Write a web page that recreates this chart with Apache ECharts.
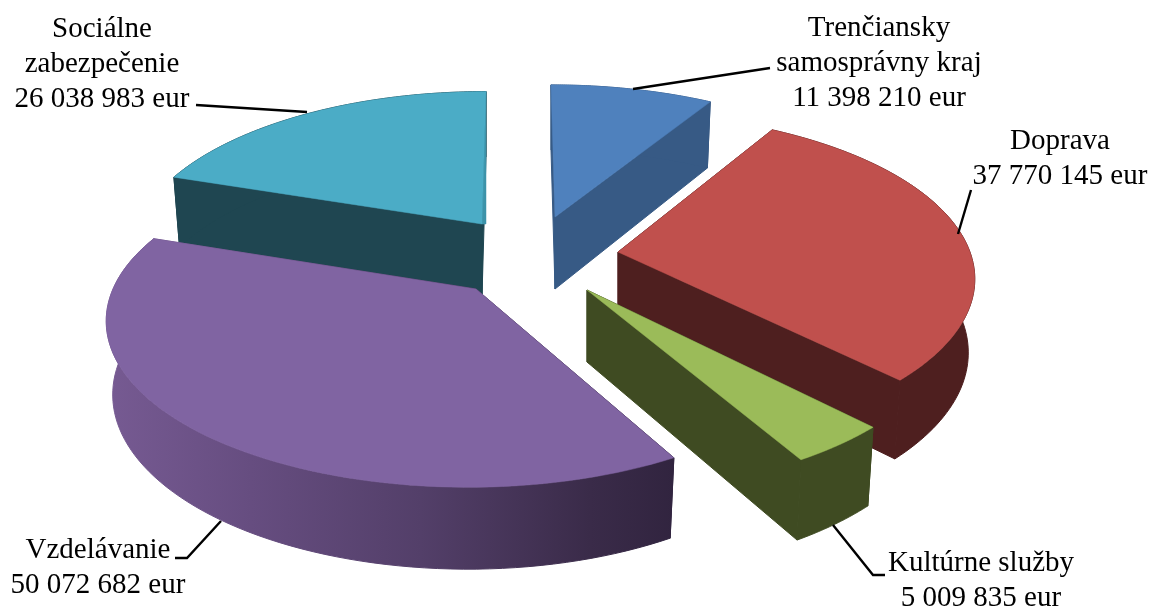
<!DOCTYPE html>
<html><head><meta charset="utf-8">
<script src="https://cdn.jsdelivr.net/npm/echarts@6/dist/echarts.min.js"></script>
<style>html,body{margin:0;padding:0;background:#fff}#c{width:1151px;height:608px}</style>
</head><body><div id="c"></div>
<script>
var names = [["Trenčiansky","samosprávny kraj"],["Doprava"],["Kultúrne služby"],["Vzdelávanie"],["Sociálne","zabezpečenie"]];
var values = [11398210, 37770145, 5009835, 50072682, 26038983];
var topColors = ["#4f81bd","#c0504d","#9bbb59","#8064a2","#4bacc6"];
var wallColors = ["#375a85","#4e1f1f","#3f4b22","#6a5088","#1f4651"];
var endFaceColors = [null,null,null,null,"#3d93a9"];
var drawOrder = [1,2,3,4,0];           // painter's order per slice
var apexX = [555,618,587,476,482];     // exploded slice tips
var apexY = [217,252,290,289,224];
var arcDx = [-4,-5,-1,-8,4];           // perspective shift of each slice's rim
var arcDy = [2,-5,4,0,-1];
var tiltDeg = [0,0,0,1.5,0];
var sliceScale = [1,1,1,1,0.98];
var labelX = [879,1060,981,98,102];
var labelY = [11,124,546,533,12];
var leaders = [
  [[633,89],[770,68]],
  [[958,234],[971,190]],
  [[833,525],[873,575],[885,575]],
  [[221,521],[187,558],[175,558]],
  [[196,105],[307,112]]
];
var A = 355, B = 160, K = 0.193, DEPTH = 72, DEPTH_GROW = 1.05, BOTTOM_X = 0.982;
var total = values.reduce(function(a,b){return a+b;},0);

function fmt(v){ return String(v).replace(/\B(?=(\d{3})+$)/g,' ') + ' eur'; }
function project(theta, s){
  var u = Math.sin(theta), v = -Math.cos(theta), d = 1 - K*v;
  return [s*A*u/d, s*B*v/d];
}
function renderItem(params, api){
  var i = params.dataIndex, val = api.value(0), before = 0;
  for (var j=0;j<i;j++) before += values[j];
  var tilt = tiltDeg[i]*Math.PI/180;
  var t0 = before/total*2*Math.PI+tilt, t1 = (before+val)/total*2*Math.PI+tilt;
  var n = 80, arc = [];
  for (var k=0;k<=n;k++) arc.push(project(t0+(t1-t0)*k/n, sliceScale[i]));
  var z = drawOrder[i]*10;
  var wallFill = wallColors[i];
  if (i === 3) {
    wallFill = new echarts.graphic.LinearGradient(110,0,675,0,[
      {offset:0,color:'#765a92'},{offset:0.25,color:'#664d80'},{offset:0.55,color:'#533f69'},
      {offset:0.85,color:'#3a2b49'},{offset:1,color:'#31243f'}],true);
  }
  function topPt(p){ return [apexX[i]+arcDx[i]+p[0], apexY[i]+arcDy[i]+p[1]]; }
  function botPt(p){ return [apexX[i]+arcDx[i]+p[0]*BOTTOM_X, apexY[i]+arcDy[i]+p[1]*DEPTH_GROW+DEPTH]; }
  var tip = [apexX[i],apexY[i]], tipB = [apexX[i],apexY[i]+DEPTH];
  var children = [];
  function poly(pts, fill, zz, lw){
    children.push({type:'polygon',z2:zz,shape:{points:pts},style:{fill:fill,stroke:fill,lineWidth:lw}});
  }
  var w = arc.map(topPt);
  var b = arc.map(botPt).reverse();
  poly([tip,topPt(arc[0]),botPt(arc[0]),tipB], wallFill, z+1, 1);
  poly([tip,topPt(arc[n]),botPt(arc[n]),tipB], wallFill, z+1, 1);
  poly(w.concat(b), wallFill, z+2, 1);
  if (endFaceColors[i]) {
    poly([tip,topPt(arc[0]),topPt(arc[n]),[tip[0]+1,tip[1]]], wallFill, z+2, 0);
    poly([tip,topPt(arc[n]),[topPt(arc[n])[0],tip[1]]], endFaceColors[i], z+2.5, 0.5);
  }
  poly([tip].concat(w), topColors[i], z+3, 0.5);
  children.push({type:'polyline',z2:100,shape:{points:leaders[i]},style:{stroke:'#000',lineWidth:2.4,fill:null}});
  children.push({type:'text',z2:101,style:{
    x:labelX[i],y:labelY[i],text:names[i].concat([fmt(val)]).join('\n'),
    fill:'#000',font:'29px "Liberation Serif"',lineHeight:35,align:'center',verticalAlign:'top'}});
  return {type:'group',children:children};
}
var chart = echarts.init(document.getElementById('c'),null,{renderer:'canvas'});
chart.setOption({
  animation:false,
  backgroundColor:'#fff',
  series:[{type:'custom',coordinateSystem:'none',silent:true,renderItem:renderItem,
    data:values.map(function(v){return [v];})}]
});
</script></body></html>
